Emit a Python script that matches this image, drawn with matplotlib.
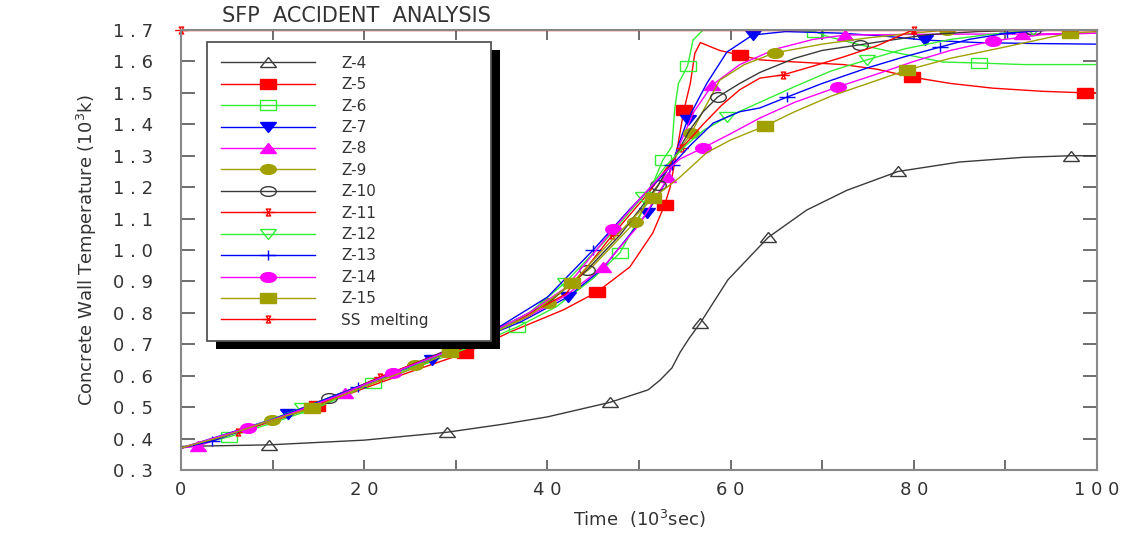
import matplotlib
matplotlib.use('Agg')
from matplotlib import pyplot as plt
from matplotlib.markers import MarkerStyle
from matplotlib.path import Path
from matplotlib.transforms import Affine2D
from matplotlib.patches import Rectangle

# values: time in 10^3 s, wall temperature in 10^3 K
z4_x = [0, 9.6, 20, 29, 35, 40, 46.8, 51, 52.3, 53.6, 54.5, 55.5, 56.7, 59.7, 64.1, 68.3, 72.7, 78.3, 85, 92, 97.2, 100]
z4_y = [0.375, 0.38, 0.395, 0.42, 0.445, 0.469, 0.515, 0.555, 0.586, 0.625, 0.675, 0.72, 0.768, 0.905, 1.04, 1.127, 1.19, 1.25, 1.28, 1.295, 1.30, 1.30]
z4_mk = [9.6, 29, 46.8, 56.7, 64.1, 78.3, 97.2]

z5_x = [0, 5, 10, 14.8, 20, 25, 31, 36, 41.7, 45.4, 49, 51.5, 52.8, 53.4, 54.1, 54.9, 55.6, 56.1, 56.7, 58.8, 61, 63.2, 66, 72.3, 76, 79.8, 84, 88.6, 94, 98.7, 100]
z5_y = [0.37, 0.41, 0.455, 0.503, 0.56, 0.612, 0.672, 0.74, 0.809, 0.866, 0.946, 1.054, 1.143, 1.2, 1.31, 1.445, 1.53, 1.626, 1.66, 1.635, 1.62, 1.605, 1.60, 1.59, 1.575, 1.55, 1.53, 1.515, 1.505, 1.50, 1.50]
z5_mk = [14.8, 31, 45.4, 52.8, 54.9, 61, 79.8, 98.7]

z6_x = [0, 5.2, 10, 15, 21, 26, 31, 36.7, 41, 45, 47.9, 50, 52, 52.6, 53.6, 53.9, 54.3, 55.3, 55.9, 57, 62, 66, 69.2, 70.5, 74.1, 77.7, 83.2, 87.1, 92, 100]
z6_y = [0.37, 0.405, 0.45, 0.50, 0.577, 0.63, 0.685, 0.755, 0.82, 0.91, 0.99, 1.1, 1.245, 1.286, 1.33, 1.45, 1.53, 1.585, 1.668, 1.70, 1.70, 1.70, 1.695, 1.68, 1.653, 1.63, 1.598, 1.595, 1.59, 1.59]
z6_mk = [5.2, 21, 36.7, 47.9, 52.6, 55.3, 69.2, 87.1]

z7_x = [0, 5, 11.7, 17, 22, 27.4, 32, 37, 42.2, 46, 50.9, 53, 54.5, 55.3, 57.4, 59.6, 62.4, 66, 72, 77, 81.2, 87, 93, 100]
z7_y = [0.37, 0.415, 0.478, 0.54, 0.595, 0.65, 0.71, 0.77, 0.85, 0.94, 1.118, 1.22, 1.35, 1.414, 1.53, 1.63, 1.684, 1.695, 1.69, 1.68, 1.668, 1.66, 1.657, 1.655]
z7_mk = [11.7, 27.4, 42.2, 50.9, 55.3, 62.4, 81.2]

z8_x = [0, 1.9, 6, 12, 17.9, 23, 28, 33, 38, 42, 46.1, 50, 53.2, 54.5, 56, 58, 61, 65, 69, 72.5, 80, 86, 91.8, 100]
z8_y = [0.37, 0.376, 0.42, 0.48, 0.545, 0.605, 0.665, 0.725, 0.79, 0.855, 0.946, 1.08, 1.232, 1.34, 1.44, 1.525, 1.59, 1.64, 1.67, 1.684, 1.686, 1.687, 1.687, 1.69]
z8_mk = [1.9, 17.9, 46.1, 53.2, 58, 72.5, 91.8]

z9_x = [0, 5, 9.9, 15, 20, 25.5, 30, 35, 40.1, 45, 49.6, 52, 54, 55.7, 58.8, 61.5, 64.8, 70, 75, 80, 83.6, 90, 100]
z9_y = [0.37, 0.41, 0.459, 0.51, 0.57, 0.634, 0.685, 0.75, 0.831, 0.95, 1.09, 1.2, 1.3, 1.372, 1.54, 1.59, 1.627, 1.655, 1.675, 1.69, 1.70, 1.70, 1.70]
z9_mk = [9.9, 25.5, 40.1, 49.6, 55.7, 64.8, 83.6]

z10_x = [0, 5, 10, 16.2, 21, 26, 31, 36, 40, 44.3, 48, 52.1, 54, 55.5, 57, 58.6, 61, 63.2, 67, 70, 74.1, 78, 81.4, 87, 93, 100]
z10_y = [0.37, 0.41, 0.46, 0.529, 0.585, 0.645, 0.705, 0.77, 0.83, 0.936, 1.05, 1.207, 1.3, 1.38, 1.44, 1.487, 1.53, 1.565, 1.61, 1.635, 1.653, 1.67, 1.685, 1.695, 1.70, 1.70]
z10_mk = [16.2, 44.3, 52.1, 58.6, 74.1, 93]

z11_x = [0, 6.2, 11, 16, 21.7, 27, 32, 37, 42, 47.1, 51, 53, 54.7, 57, 59, 61, 63.2, 65.7, 69, 72.3, 76, 79.9, 85, 100]
z11_y = [0.37, 0.421, 0.47, 0.52, 0.596, 0.655, 0.715, 0.78, 0.86, 1.048, 1.18, 1.26, 1.325, 1.40, 1.46, 1.51, 1.547, 1.557, 1.585, 1.614, 1.65, 1.70, 1.70, 1.70]
z11_mk = [6.2, 21.7, 47.1, 54.7, 65.7, 79.9]

z12_x = [0, 6, 13.2, 19, 24, 29, 34, 38, 41.9, 46, 50.4, 53, 55, 57, 59.6, 63.2, 67, 71, 74.9, 79, 84, 88, 93, 100]
z12_y = [0.37, 0.42, 0.497, 0.56, 0.615, 0.675, 0.735, 0.8, 0.895, 1.02, 1.169, 1.27, 1.33, 1.38, 1.423, 1.47, 1.52, 1.57, 1.605, 1.64, 1.67, 1.685, 1.70, 1.70]
z12_mk = [13.2, 41.9, 50.4, 59.6, 74.9, 93]

z13_x = [0, 3.4, 9, 14, 19.3, 25, 30, 35, 40, 45, 49, 52, 53.6, 55.5, 58.1, 61, 63.2, 66.2, 70, 75, 79, 82.9, 86, 90.2, 95, 100]
z13_y = [0.37, 0.392, 0.45, 0.505, 0.564, 0.63, 0.69, 0.76, 0.85, 1.0, 1.13, 1.22, 1.27, 1.33, 1.404, 1.44, 1.452, 1.487, 1.53, 1.58, 1.615, 1.646, 1.67, 1.69, 1.70, 1.70]
z13_mk = [3.4, 19.3, 45, 53.6, 66.2, 82.9, 90.2]

z14_x = [0, 7.3, 12, 17, 23.1, 28, 33, 38, 42, 47.2, 50, 52.5, 54.5, 57, 60, 63.2, 67, 71.7, 76, 80, 84, 88.6, 94, 100]
z14_y = [0.37, 0.434, 0.48, 0.535, 0.609, 0.665, 0.725, 0.8, 0.88, 1.067, 1.16, 1.24, 1.29, 1.325, 1.37, 1.42, 1.47, 1.519, 1.56, 1.6, 1.635, 1.665, 1.685, 1.69]
z14_mk = [7.3, 23.1, 47.2, 57, 71.7, 88.6]

z15_x = [0, 5, 9, 14.3, 20, 25, 29.4, 34, 38, 42.7, 47, 51.5, 54.4, 57.4, 60, 63.8, 67, 71, 75, 79.3, 84, 89, 93, 97, 100]
z15_y = [0.37, 0.41, 0.45, 0.497, 0.565, 0.62, 0.675, 0.735, 0.79, 0.895, 1.03, 1.165, 1.23, 1.31, 1.35, 1.395, 1.44, 1.49, 1.53, 1.573, 1.61, 1.64, 1.665, 1.69, 1.695]
z15_mk = [14.3, 29.4, 42.7, 51.5, 63.8, 79.3, 97]

ss_x = [0, 80, 100]
ss_y = [1.7, 1.7, 1.7]
ss_mk = [0, 80]

labels = ['Z-4', 'Z-5', 'Z-6', 'Z-7', 'Z-8', 'Z-9', 'Z-10', 'Z-11', 'Z-12', 'Z-13', 'Z-14', 'Z-15', 'SS  melting']
y_ticks = [0.3, 0.4, 0.5, 0.6, 0.7, 0.8, 0.9, 1.0, 1.1, 1.2, 1.3, 1.4, 1.5, 1.6, 1.7]
y_ticklabels = ['0 . 3', '0 . 4', '0 . 5', '0 . 6', '0 . 7', '0 . 8', '0 . 9', '1 . 0',
                '1 . 1', '1 . 2', '1 . 3', '1 . 4', '1 . 5', '1 . 6', '1 . 7']
x_ticks = [0, 10, 20, 30, 40, 50, 60, 70, 80, 90, 100]
x_ticklabels = ['0', '', '2 0', '', '4 0', '', '6 0', '', '8 0', '', '1 0 0']

# wide markers like the original plotting package
wide = Affine2D().scale(1.6, 1.0)
hour = Path([(-0.35, 0.7), (0.35, 0.7), (-0.35, -0.7), (0.35, -0.7), (-0.35, 0.7), (-1, 0), (1, 0)],
            [Path.MOVETO, Path.LINETO, Path.LINETO, Path.LINETO, Path.CLOSEPOLY, Path.MOVETO, Path.LINETO])

black = '#3a3a3a'
red = '#ff0000'
green = '#33ee33'
blue = '#0000ff'
magenta = '#ff00ff'
olive = '#a0a000'

series = [
    (z4_x, z4_y, z4_mk, black, '^', False),
    (z5_x, z5_y, z5_mk, red, 's', True),
    (z6_x, z6_y, z6_mk, green, 's', False),
    (z7_x, z7_y, z7_mk, blue, 'v', True),
    (z8_x, z8_y, z8_mk, magenta, '^', True),
    (z9_x, z9_y, z9_mk, olive, 'o', True),
    (z10_x, z10_y, z10_mk, black, 'o', False),
    (z11_x, z11_y, z11_mk, red, hour, False),
    (z12_x, z12_y, z12_mk, green, 'v', False),
    (z13_x, z13_y, z13_mk, blue, '+', False),
    (z14_x, z14_y, z14_mk, magenta, 'o', True),
    (z15_x, z15_y, z15_mk, olive, 's', True),
    (ss_x, ss_y, ss_mk, red, hour, False),
]

fig = plt.figure(figsize=(11.35, 5.35), dpi=100)
ax = fig.add_axes([181 / 1135, 65 / 535, 916 / 1135, 440 / 535])

for (xs, ys, mk, col, m, filled), lab in zip(series, labels):
    idx = [xs.index(v) for v in mk]
    if isinstance(m, str):
        ms = MarkerStyle(m, transform=wide)
    else:
        ms = MarkerStyle(m, transform=Affine2D().scale(1.3, 1.0))
    ax.plot(xs, ys, color=col, lw=1.0, marker=ms, markevery=idx, markersize=7,
            markerfacecolor=col if filled else 'none', markeredgecolor=col,
            markeredgewidth=1.0, label=lab, clip_on=(lab != 'SS  melting'), zorder=2)

ax.set_xlim(0, 100)
ax.set_ylim(0.3, 1.7)
ax.set_xticks(x_ticks)
ax.set_xticklabels(x_ticklabels)
ax.set_yticks(y_ticks)
ax.set_yticklabels(y_ticklabels)
ax.tick_params(axis='both', direction='in', top=True, right=True, labelsize=13,
               labelcolor='#333333', color='#555555', width=1.2)
ax.tick_params(axis='x', length=7, pad=8)
ax.tick_params(axis='y', length=10, pad=20)
for sp in ax.spines.values():
    sp.set_color('#888888')
    sp.set_linewidth(1.5)

ax.set_xlabel('Time  (10$^3$sec)', fontsize=13, color='#333333', labelpad=6)
ax.set_ylabel('Concrete Wall Temperature (10$^3$k)', fontsize=13, color='#333333', labelpad=10,
              family=['Liberation Sans Narrow', 'DejaVu Sans'])
fig.text(222 / 1135, 1 - 16 / 535, 'SFP  ACCIDENT  ANALYSIS', fontsize=15, color='#333333',
         ha='left', va='center')

leg = ax.legend(loc='upper left', bbox_to_anchor=(26 / 916, (470 - 336) / 440, 284 / 916, 294 / 440),
                mode='expand', borderaxespad=0, numpoints=1, handlelength=6.2, handletextpad=1.7,
                labelspacing=0.42, borderpad=0.9, fontsize=11, fancybox=False,
                edgecolor='#555555', framealpha=1)
leg.get_frame().set_linewidth(1.3)
for t in leg.get_texts():
    t.set_color('#333333')

# black drop shadow behind the legend box
fig.canvas.draw()
bb = leg.get_window_extent().transformed(ax.transAxes.inverted())
dx = 9 / 916
dy = 8 / 440
ax.add_patch(Rectangle((bb.x0 + dx, bb.y0 - dy), bb.width, bb.height, transform=ax.transAxes,
                       facecolor='black', edgecolor='none', zorder=4.9, clip_on=False))

fig.savefig('out.png', dpi=100)
